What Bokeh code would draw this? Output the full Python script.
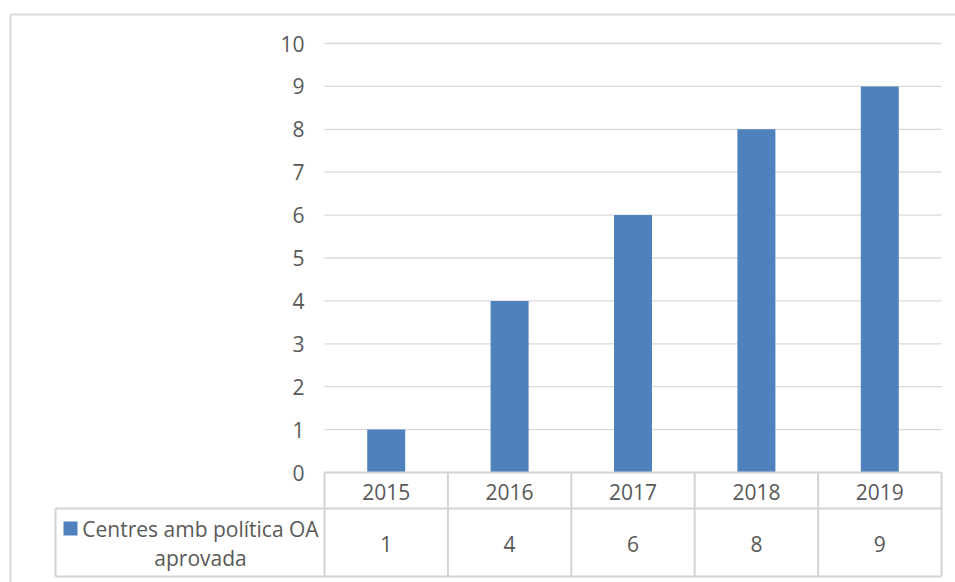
from bokeh.plotting import figure
from bokeh.models import ColumnDataSource
from bokeh.core.properties import value
from bokeh.embed import file_html
from bokeh.resources import INLINE

# ---- data ----
years = ["2015", "2016", "2017", "2018", "2019"]
centres = [1, 4, 6, 8, 9]
y_ticks = [0, 1, 2, 3, 4, 5, 6, 7, 8, 9, 10]
series_lines = ["Centres amb política OA", "aprovada"]

# ---- layout (page pixels) ----
OX, OY = 0, 0            # page origin of the canvas
W, H = 955, 582
PX0, PX1 = 324, 941      # plot area left / right
PY0, PY10 = 472, 43      # y of value 0 / value 10
N = len(years)
CW = (PX1 - PX0) / N
UH = (PY0 - PY10) / 10.0

def X(px):
    return (px - PX0) / CW

def Y(py):
    return (PY0 - py) / UH

FONT = value("Open Sans")
FS = value("21px")
TXT = "#595959"
GRID = "#d9d9d9"
BAR = "#4f81bd"

p = figure(width=W, height=H, x_range=(X(OX), X(OX + W)), y_range=(Y(OY + H), Y(OY)),
           min_border=0, output_backend="svg", toolbar_location=None,
           x_axis_location=None, y_axis_location=None)
p.outline_line_color = None
p.grid.grid_line_color = None
p.background_fill_color = "white"
p.border_fill_color = "white"

# outer chart border
p.segment(x0=[X(10), X(10)], y0=[Y(14), Y(14)], x1=[X(970), X(10)], y1=[Y(14), Y(600)],
          line_color=GRID, line_width=2)

# gridlines
grid_vals = [t for t in y_ticks if t > 0]
p.segment(x0=[0] * len(grid_vals), x1=[N] * len(grid_vals), y0=grid_vals, y1=grid_vals,
          line_color=GRID, line_width=1.3)

# bars
cx = [i + 0.5 for i in range(N)]
src = ColumnDataSource(dict(x=cx, top=centres, year=years, lab=[str(v) for v in centres]))
p.vbar(x="x", top="top", bottom=0, width=38 / CW, source=src, fill_color=BAR, line_color=None)

# data table lines
TL = "#d4d4d4"
row1_bot = Y(508)
row2_bot = Y(576)
leg_left = X(55)
p.segment(x0=[0, leg_left, leg_left], x1=[N, N, N], y0=[0, row1_bot, row2_bot],
          y1=[0, row1_bot, row2_bot], line_color=TL, line_width=2)
p.segment(x0=list(range(N + 1)), x1=list(range(N + 1)), y0=[0] * (N + 1),
          y1=[row2_bot] * (N + 1), line_color=TL, line_width=2)
p.segment(x0=[leg_left], x1=[leg_left], y0=[row1_bot], y1=[row2_bot], line_color=TL, line_width=2)

# y tick labels
p.text(x=[X(304)] * len(y_ticks), y=y_ticks, text=[str(t) for t in y_ticks],
       text_align="right", text_baseline="middle", text_font=FONT,
       text_font_size=FS, text_color=TXT)

# table header (years) and values
p.text(x="x", y=Y(491), text="year", source=src, text_align="center", text_baseline="middle",
       text_font=FONT, text_font_size=FS, text_color=TXT)
p.text(x="x", y=Y(543), text="lab", source=src, text_align="center", text_baseline="middle",
       text_font=FONT, text_font_size=FS, text_color=TXT)

# legend key + series name
p.rect(x=[X(70)], y=[Y(528)], width=14 / CW, height=14 / UH, fill_color=BAR, line_color=None)
p.text(x=[X(200), X(200)], y=[Y(528), Y(557)], text=series_lines, text_align="center",
       text_baseline="middle", text_font=FONT, text_font_size=FS, text_color=TXT)

open("out.html", "w").write(file_html(p, INLINE))
